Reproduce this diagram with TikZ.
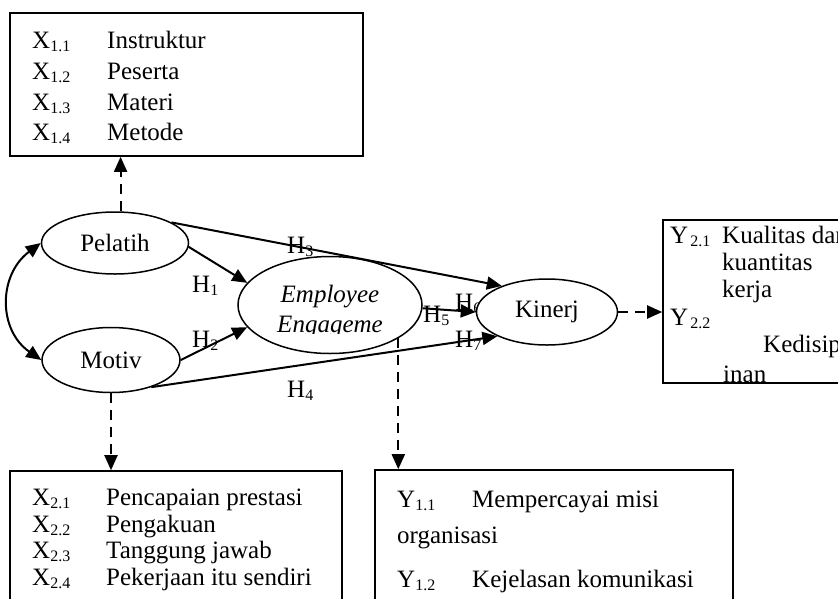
\documentclass[tikz,border=0pt]{standalone}
\usepackage{fontspec}
\setmainfont{Liberation Serif}
\usetikzlibrary{shapes.geometric,arrows.meta}
\newcommand\sbx[1]{\raisebox{-3pt}{\fontsize{16}{16}\selectfont #1}}
\begin{document}
\begin{tikzpicture}[x=1pt,y=-1pt,
  font=\fontsize{25}{30}\selectfont,
  box/.style={draw, line width=1.6pt, inner sep=0pt},
  lat/.style={draw, ellipse, line width=1.5pt, fill=white, inner sep=0pt},
  arr/.style={line width=2pt, -{Triangle[length=15pt,width=13pt]}},
  darr/.style={arr, dash pattern=on 10pt off 7pt},
  lbl/.style={anchor=base west, inner sep=0pt},
  hl/.style={anchor=base west, inner sep=0pt}]
\useasboundingbox (0,0) rectangle (838,598);
\fill[white] (0,0) rectangle (838,598);
\clip (0,0) rectangle (838,598);

% indicator boxes
\node[box, minimum width=353pt, minimum height=143pt] (xb1) at (186.5,84.5) {};
\node[box, minimum width=217pt, minimum height=163pt] (yb2) at (771.5,301.5) {};
\node[box, minimum width=332pt, minimum height=179pt] (xb2) at (176,560.5) {};
\node[box, minimum width=358pt, minimum height=180pt] (yb1) at (554,560) {};

% top box text
\node[lbl] (x11) at (32,48) {X\sbx{1.1}};
\node[lbl] (x11t) at (107,48) {Instruktur};
\node[lbl] (x12) at (32,79) {X\sbx{1.2}};
\node[lbl] (x12t) at (107,79) {Peserta};
\node[lbl] (x13) at (32,110) {X\sbx{1.3}};
\node[lbl] (x13t) at (107,110) {Materi};
\node[lbl] (x14) at (32,140) {X\sbx{1.4}};
\node[lbl] (x14t) at (107,140) {Metode};

% bottom-left box text
\node[lbl] (x21) at (32,505) {X\sbx{2.1}};
\node[lbl] (x21t) at (106,505) {Pencapaian prestasi};
\node[lbl] (x22) at (32,532) {X\sbx{2.2}};
\node[lbl] (x22t) at (106,532) {Pengakuan};
\node[lbl] (x23) at (32,558) {X\sbx{2.3}};
\node[lbl] (x23t) at (106,558) {Tanggung jawab};
\node[lbl] (x24) at (32,585) {X\sbx{2.4}};
\node[lbl] (x24t) at (106,585) {Pekerjaan itu sendiri};

% bottom-right box text
\node[lbl] (y11) at (397,507) {Y\sbx{1.1}};
\node[lbl] (y11t) at (472,507) {Mempercayai misi};
\node[lbl] (y11u) at (397,543) {organisasi};
\node[lbl] (y12) at (397,587) {Y\sbx{1.2}};
\node[lbl] (y12t) at (472,587) {Kejelasan komunikasi};

% right box text
\node[lbl] (y21) at (670,243) {Y\kern2pt\sbx{2.1}};
\node[lbl] (y21t) at (722,243) {Kualitas dan};
\node[lbl] (y21u) at (722,270) {kuantitas};
\node[lbl] (y21v) at (722,297) {kerja};
\node[lbl] (y22) at (670,325) {Y\kern2pt\sbx{2.2}};
\node[lbl] (y22t) at (763,352) {Kedisipl};
\node[lbl] (y22u) at (723,382) {inan};

% hypothesis labels
\node[hl] (h1) at (192,292) {H\sbx{1}};
\node[hl] (h2) at (192,347) {H\sbx{2}};
\node[hl] (h3) at (287,253) {H\sbx{3}};
\node[hl] (h4) at (287,397) {H\sbx{4}};
\node[hl] (h5) at (423,322) {H\sbx{5}};
\node[hl] (h6) at (455,310) {H\sbx{6}};
\node[hl] (h7) at (455,347) {H\sbx{7}};

% latent variables
\node[lat, minimum width=147pt, minimum height=62pt] (pel) at (115,243) {Pelatih};
\node[lat, minimum width=138pt, minimum height=65pt] (mot) at (111,360) {Motiv};
\node[lat, minimum width=184pt, minimum height=97pt] (ee) at (330,305) {};
\node[lat, minimum width=141pt, minimum height=66pt] (kin) at (547,312) {Kinerj};

\begin{scope}
\clip (230,250) rectangle (430,333.5);
\node[anchor=base, inner sep=0pt] (ee1) at (330,302) {\itshape Employee};
\node[anchor=base, inner sep=0pt] (ee2) at (330,332) {\itshape Engageme};
\end{scope}

% structural paths
\draw[arr] (pel.-3) -- (ee.165);
\draw[arr] (mot.east) -- (ee.195);
\draw[arr] (pel.20) -- (kin.150);
\draw[arr] (mot.-34) -- (kin.206);
\draw[arr] (ee.-2) -- (kin.west);
\draw[line width=2pt, {Triangle[length=15pt,width=13pt]}-{Triangle[length=15pt,width=13pt]}]
  (pel.west) .. controls (-2,275) and (-2,330) .. (mot.west);

% measurement paths
\draw[darr] (pel.80) -- (pel.80 |- xb1.south);
\draw[darr] (mot.south) -- (mot.south |- xb2.north);
\draw[darr] (ee.-26) -- (ee.-26 |- yb1.north);
\draw[darr] (kin.east) -- (kin.east -| yb2.west);
\end{tikzpicture}
\end{document}
